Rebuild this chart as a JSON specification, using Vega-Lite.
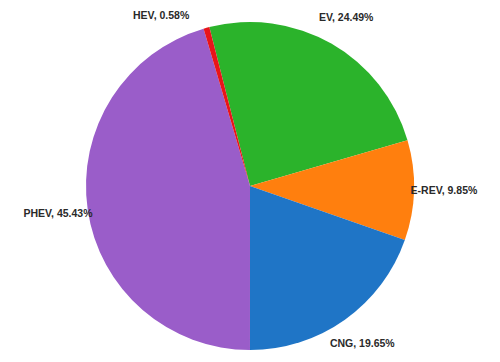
{
  "$schema": "https://vega.github.io/schema/vega-lite/v6.json",
  "width": 500,
  "height": 352,
  "autosize": {"type": "none"},
  "padding": {"top": 10, "bottom": 0, "left": 0, "right": 0},
  "background": "white",
  "view": {"stroke": null},
  "data": {
    "values": [
      {"cat": "EV", "pct": 24.49, "ord": 1, "label": "EV,  24.49%"},
      {"cat": "E-REV", "pct": 9.85, "ord": 2, "label": "E-REV,  9.85%"},
      {"cat": "CNG", "pct": 19.65, "ord": 3, "label": "CNG,  19.65%"},
      {"cat": "PHEV", "pct": 45.43, "ord": 4, "label": "PHEV,  45.43%"},
      {"cat": "HEV", "pct": 0.58, "ord": 5, "label": "HEV,  0.58%"}
    ]
  },
  "encoding": {
    "theta": {"field": "pct", "type": "quantitative", "stack": true, "scale": {"range": [-0.2506, 6.0326]}},
    "order": {"field": "ord", "type": "quantitative"}
  },
  "layer": [
    {
      "mark": {"type": "arc", "outerRadius": 164, "stroke": null},
      "encoding": {
        "color": {
          "field": "cat",
          "type": "nominal",
          "legend": null,
          "scale": {
            "domain": ["EV", "E-REV", "CNG", "PHEV", "HEV"],
            "range": ["#2bb32b", "#ff7f0e", "#1f75c6", "#9a5dc9", "#e8141a"]
          }
        }
      }
    },
    {
      "mark": {"type": "text", "radius": 194, "font": "Liberation Sans", "fontSize": 10.5, "fontWeight": "bold", "color": "#2a2a2a"},
      "encoding": {
        "text": {"field": "label", "type": "nominal"},
        "opacity": {"condition": {"test": "datum.cat === 'HEV'", "value": 0}, "value": 1}
      }
    },
    {
      "mark": {"type": "text", "radius": 176, "align": "right", "dx": -14, "font": "Liberation Sans", "fontSize": 10.5, "fontWeight": "bold", "color": "#2a2a2a"},
      "encoding": {
        "text": {"field": "label", "type": "nominal"},
        "opacity": {"condition": {"test": "datum.cat === 'HEV'", "value": 1}, "value": 0}
      }
    }
  ]
}
